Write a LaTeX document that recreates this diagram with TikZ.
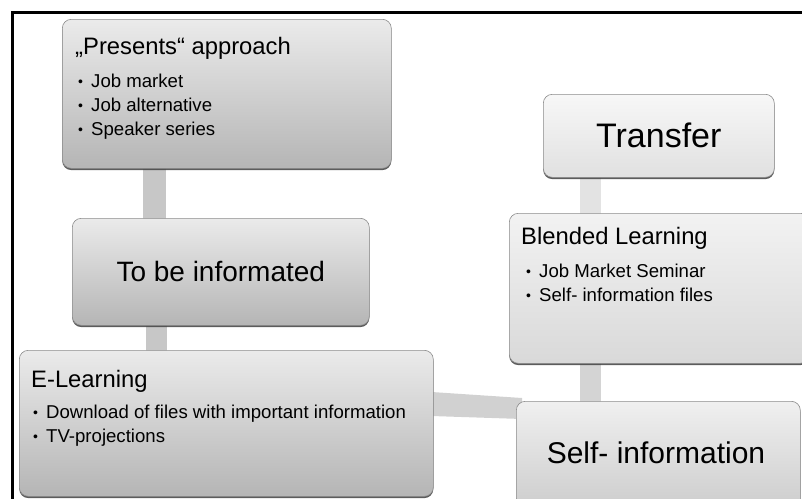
\documentclass[tikz,border=0pt]{standalone}
\usepackage{fontspec}
\setmainfont{Liberation Sans}
\usetikzlibrary{calc,backgrounds,shadows}
\begin{document}
\begin{tikzpicture}[x=1pt,y=-1pt,
  box/.style={draw=black!45, line width=0.6pt, rounded corners=9pt, anchor=north west,
    inner sep=0pt, drop shadow={shadow xshift=0pt, shadow yshift=-1.8pt, fill=black!75, opacity=0.85}},
  darkbox/.style={box, top color=black!8, bottom color=black!29},
  litebox/.style={box, top color=black!3, bottom color=black!12},
  midbox/.style={box, top color=black!6, bottom color=black!20},
  conn/.style={fill=black!22, draw=none},
  liteconn/.style={fill=black!11, draw=none},
  title/.style={anchor=base west, inner sep=0pt, font=\fontsize{23.8}{26}\selectfont},
  big/.style={inner sep=0pt},
  item/.style={anchor=base west, inner sep=0pt, font=\fontsize{18.6}{20}\selectfont},
  dot/.style={anchor=base west, inner sep=0pt, font=\fontsize{14}{16}\selectfont},
  frame/.style={line width=3pt, black}]
\useasboundingbox (0,0) rectangle (802,498);

% frame
\coordinate (fa) at (12,500);
\coordinate (fb) at (12,12);
\coordinate (fc) at (804,12);
\draw[frame] (fa) -- (fb) -- (fc);

% boxes
\node[darkbox, minimum width=329pt, minimum height=149pt] (pres) at (62,19) {};
\node[darkbox, minimum width=297pt, minimum height=107pt] (tbi) at (72,218) {};
\node[darkbox, minimum width=414pt, minimum height=146pt] (el) at (19,350) {};
\node[midbox, minimum width=284pt, minimum height=110pt] (si) at (516,401) {};
\node[litebox, minimum width=231pt, minimum height=83pt] (tr) at (543,94) {};
\node[midbox, top color=black!5, bottom color=black!15, minimum width=300pt, minimum height=150pt] (bl) at (509,213) {};

% connectors
\begin{pgfonlayer}{background}
\fill[conn] ($(pres.south west)+(81,-2)$) rectangle ($(tbi.north west)+(94,2)$);
\fill[conn] ($(tbi.south west)+(74,-2)$) rectangle ($(el.north west)+(148,2)$);
\fill[liteconn] ($(tr.south west)+(37,-2)$) rectangle ($(bl.north west)+(92,2)$);
\fill[conn, fill=black!17] ($(bl.south west)+(71,-2)$) rectangle ($(si.north west)+(85,2)$);
\fill[conn, fill=black!18] ($(el.north east)+(-2,42)$) -- ($(si.north west)+(6,-3)$)
   -- ($(si.north west)+(6,18)$) -- ($(el.north east)+(-2,66)$) -- cycle;
\end{pgfonlayer}

% texts
\node[title] (t1) at (75,54) {„Presents“\ approach};
\node[dot] (d11) at (78,86) {•};
\node[item] (i11) at (91,87) {Job market};
\node[dot] (d12) at (78,110) {•};
\node[item] (i12) at (91,111) {Job alternative};
\node[dot] (d13) at (78,134) {•};
\node[item] (i13) at (91,135) {Speaker series};

\node[big, font=\fontsize{28}{30}\selectfont] (t2) at (tbi.center) {To be informated};

\node[title] (t3) at (31,387) {E-Learning};
\node[dot] (d31) at (33,417) {•};
\node[item] (i31) at (46,418) {Download of files with important information};
\node[dot] (d32) at (33,441) {•};
\node[item] (i32) at (46,442) {TV-projections};

\node[big, font=\fontsize{34}{38}\selectfont] (t4) at (tr.center) {Transfer};

\node[title] (t5) at (521,244) {Blended Learning};
\node[dot] (d51) at (526,276) {•};
\node[item] (i51) at (539,277) {Job Market Seminar};
\node[dot] (d52) at (526,300) {•};
\node[item] (i52) at (539,301) {Self- information files};

\node[big, font=\fontsize{30}{32}\selectfont] (t6) at (656,453) {Self- information};
\end{tikzpicture}
\end{document}
